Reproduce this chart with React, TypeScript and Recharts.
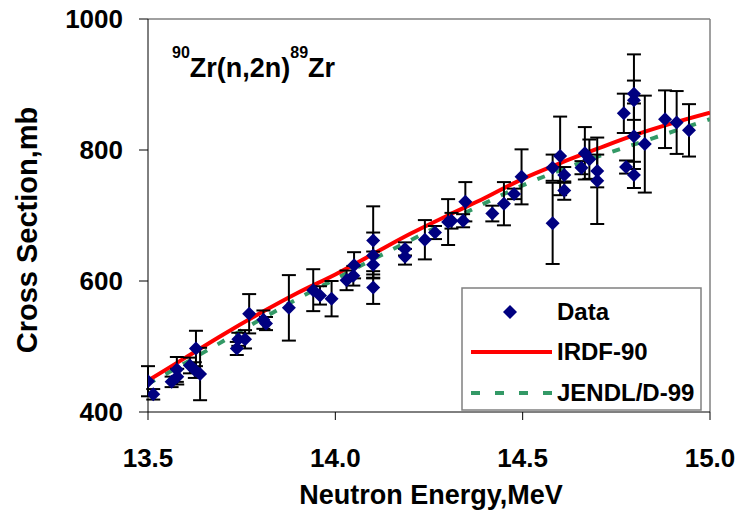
import { ComposedChart, Line, Scatter, ErrorBar, XAxis, YAxis, ReferenceLine } from 'recharts';

// measured 90Zr(n,2n)89Zr cross sections
const energy = [
  13.5, 13.514, 13.563, 13.578, 13.577, 13.612, 13.628, 13.625, 13.639, 13.737,
  13.741, 13.759, 13.77, 13.808, 13.815, 13.876, 13.941, 13.959, 13.99, 14.03,
  14.048, 14.05, 14.101, 14.101, 14.101, 14.101, 14.186, 14.186, 14.239, 14.266,
  14.301, 14.31, 14.341, 14.347, 14.419, 14.45, 14.477, 14.497, 14.58, 14.58,
  14.6, 14.611, 14.611, 14.657, 14.666, 14.678, 14.699, 14.699, 14.77, 14.776,
  14.797, 14.797, 14.797, 14.797, 14.826, 14.88, 14.911, 14.944,
];
const crossSection = [
  447, 427, 446, 454, 465, 471, 497, 464, 458, 497,
  511, 511, 550, 541, 535, 559, 586, 578, 573, 601,
  608, 624, 662, 639, 625, 590, 649, 637, 663, 674,
  690, 692, 692, 721, 703, 718, 733, 759, 688, 773,
  791, 762, 738, 773, 795, 786, 768, 753, 856, 774,
  886, 876, 821, 762, 809, 847, 842, 830,
];
const uncertainty = [
  23, 8, 8, 12, 19, 12, 27, 12, 40, 10,
  10, 14, 30, 14, 10, 50, 32, 14, 27, 15,
  15, 20, 52, 35, 20, 25, 10, 12, 30, 10,
  35, 12, 10, 30, 12, 33, 8, 42, 62, 20,
  60, 12, 14, 10, 40, 30, 25, 66, 30, 10,
  60, 30, 50, 20, 74, 44, 48, 40,
];

// evaluated curves
const curveEnergy = [13.5, 13.6, 13.7, 13.8, 13.9, 14.0, 14.1, 14.2, 14.3, 14.4, 14.5, 14.6, 14.7, 14.8, 14.9, 15.0];
const irdf90 = [448, 483, 518, 551, 582, 610, 641, 672, 700, 727, 756, 780, 802, 823, 841, 857];
const jendl99 = [443, 475, 508, 541, 573, 603, 633, 662, 691, 719, 746, 769, 790, 809, 828, 847];

const xTicks = [13.5, 14.0, 14.5, 15.0];
const yTicks = [400, 600, 800, 1000];

const points = energy.map((x, i) => ({ x, y: crossSection[i], err: uncertainty[i] }));
const irdfData = curveEnergy.map((x, i) => ({ x, y: irdf90[i] }));
const jendlData = curveEnergy.map((x, i) => ({ x, y: jendl99[i] }));

const FONT = '"Liberation Sans", Arial, sans-serif';
const NAVY = '#000080';
const RED = '#ff0000';
const GREEN = '#339966';

const Diamond = (props: any) => {
  const { cx, cy } = props;
  const r = 7;
  return <polygon points={`${cx},${cy - r} ${cx + r},${cy} ${cx},${cy + r} ${cx - r},${cy}`} fill={NAVY} />;
};

const tickStyle = { fontSize: 26, fontWeight: 'bold', fill: '#000', fontFamily: FONT };

export default function App() {
  return (
    <div style={{ position: 'absolute', left: 0, top: 0, width: 740, height: 518, background: '#fff' }}>
      <ComposedChart width={740} height={518} margin={{ top: 19, right: 30, left: 0, bottom: 0 }}>
        <XAxis
          dataKey="x"
          type="number"
          domain={[13.5, 15]}
          ticks={xTicks}
          tickFormatter={(v: number) => v.toFixed(1)}
          height={106}
          stroke="#000"
          tickSize={8}
          tickMargin={29}
          tick={tickStyle}
          allowDataOverflow
        />
        <YAxis
          type="number"
          domain={[400, 1000]}
          ticks={yTicks}
          width={148}
          stroke="#000"
          tickSize={9}
          tickMargin={16}
          tick={tickStyle}
          allowDataOverflow
        />
        <ReferenceLine y={1000} stroke="#808080" strokeWidth={1.5} />
        <ReferenceLine x={15} stroke="#808080" strokeWidth={1.5} />
        <Line data={jendlData} dataKey="y" type="monotone" stroke={GREEN} strokeWidth={4} strokeDasharray="8 12" dot={false} isAnimationActive={false} />
        <Line data={irdfData} dataKey="y" type="monotone" stroke={RED} strokeWidth={4} dot={false} isAnimationActive={false} />
        <Scatter data={points} dataKey="y" shape={Diamond} isAnimationActive={false}>
          <ErrorBar dataKey="err" direction="y" width={7} stroke="#000" strokeWidth={2} />
        </Scatter>
      </ComposedChart>

      <svg width={740} height={518} style={{ position: 'absolute', left: 0, top: 0, pointerEvents: 'none' }} fontFamily={FONT} fontWeight="bold">
        <text x={172} y={77} fontSize={27}>
          <tspan fontSize={16} dy={-19}>90</tspan>
          <tspan fontSize={27} dy={19}>Zr(n,2n)</tspan>
          <tspan fontSize={16} dy={-19}>89</tspan>
          <tspan fontSize={27} dy={19}>Zr</tspan>
        </text>
        <text x={37} y={230} fontSize={29} textAnchor="middle" transform="rotate(-90 37 230)">Cross Section,mb</text>
        <text x={431} y={504} fontSize={27} textAnchor="middle">Neutron Energy,MeV</text>

        <rect x={462} y={288} width={239} height={122} fill="#fff" stroke="#808080" strokeWidth={1.5} />
        <polygon points="510,305 517,312 510,319 503,312" fill={NAVY} />
        <text x={557} y={320} fontSize={24}>Data</text>
        <line x1={471} y1={352} x2={552} y2={352} stroke={RED} strokeWidth={4} />
        <text x={557} y={360} fontSize={24}>IRDF-90</text>
        <line x1={471} y1={393} x2={552} y2={393} stroke={GREEN} strokeWidth={4} strokeDasharray="9 15" />
        <text x={557} y={401} fontSize={24}>JENDL/D-99</text>
      </svg>
    </div>
  );
}
